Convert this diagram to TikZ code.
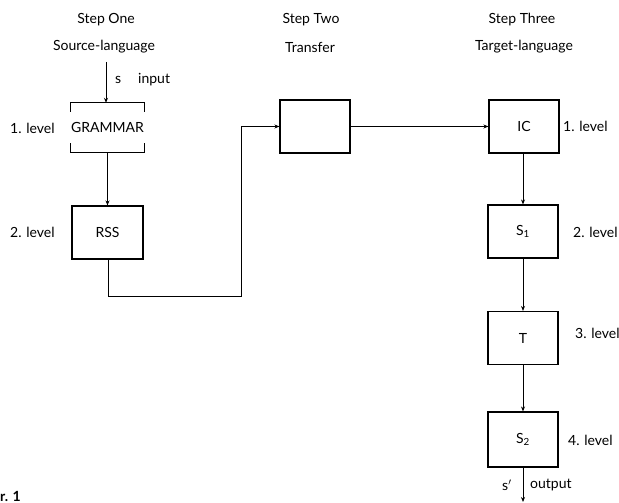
\documentclass[tikz,border=0pt]{standalone}
\usepackage{fontspec}
\setmainfont{Lato}
\usetikzlibrary{arrows.meta}
\begin{document}
\begin{tikzpicture}[x=1pt,y=-1pt,
  font=\fontsize{14}{16}\selectfont,
  box/.style={draw,line width=1.1pt,minimum width=70pt,minimum height=53pt,inner sep=0pt},
  open/.style={minimum width=71pt,minimum height=49pt,inner sep=0pt},
  conn/.style={line width=0.8pt},
  arr/.style={conn,-{Stealth[length=5pt,width=4pt]}},
  lbl/.style={anchor=west,inner sep=0pt}]
\useasboundingbox (0,0) rectangle (619,503);
% headings
\node (h1a) at (106,20) {Step One};
\node (h1b) at (104,47) {Source-language};
\node (h2a) at (311,20) {Step Two};
\node (h2b) at (310,47) {Transfer};
\node (h3a) at (522,20) {Step Three};
\node (h3b) at (524,47) {Target-language};
% step one
\node[open] (gr) at (107.5,127.5) {GRAMMAR};
\draw[line width=1.1pt] ([yshift=-9pt]gr.north west) -- (gr.north west) -- (gr.north east) -- ([yshift=-9pt]gr.north east);
\draw[line width=1.1pt] ([yshift=9pt]gr.south west) -- (gr.south west) -- (gr.south east) -- ([yshift=9pt]gr.south east);
\node[box,minimum width=71pt] (rss) at (107.5,232.5) {RSS};
\coordinate (in) at (106,62);
\draw[arr] (in) -- (gr.north -| in);
\node[lbl] (s) at (115,80) {s};
\node[lbl] (inp) at (138,80) {input};
\node[lbl] (l1) at (10,128) {1. level};
\node[lbl] (l2) at (10,232) {2. level};
\draw[arr] (gr.south) -- (rss.north);
% transfer
\node[box] (tr) at (315,126.5) {};
\coordinate (c1) at (108,296);
\coordinate (c2) at (241,296);
\draw[arr] (rss.south -| c1) -- (c1) -- (c2) -- (c2 |- tr.west) -- (tr.west);
% step three
\node[box] (ic) at (524,126.5) {IC};
\node[box] (s1) at (523,231.5) {S\textsubscript{1}};
\node[box] (t) at (523,338) {T};
\node[box,minimum height=55pt] (s2) at (523,439.5) {S\textsubscript{2}};
\draw[arr] (tr.east) -- (ic.west);
\draw[arr] (ic.south -| s1.north) -- (s1.north);
\draw[arr] (s1.south) -- (t.north);
\draw[arr] (t.south) -- (s2.north);
\coordinate (out) at (523,502);
\draw[arr] (s2.south) -- (out);
\node[lbl] (sp) at (502,485) {s$'$};
\node[lbl] (outp) at (530,485) {output};
\node[lbl] (r1) at (563,126) {1. level};
\node[lbl] (r2) at (573,232) {2. level};
\node[lbl] (r3) at (575,333) {3. level};
\node[lbl] (r4) at (568,440) {4. level};
\node[lbl,font=\fontsize{14}{16}\selectfont\bfseries] (fig) at (0,496) {r. 1};
\end{tikzpicture}
\end{document}
